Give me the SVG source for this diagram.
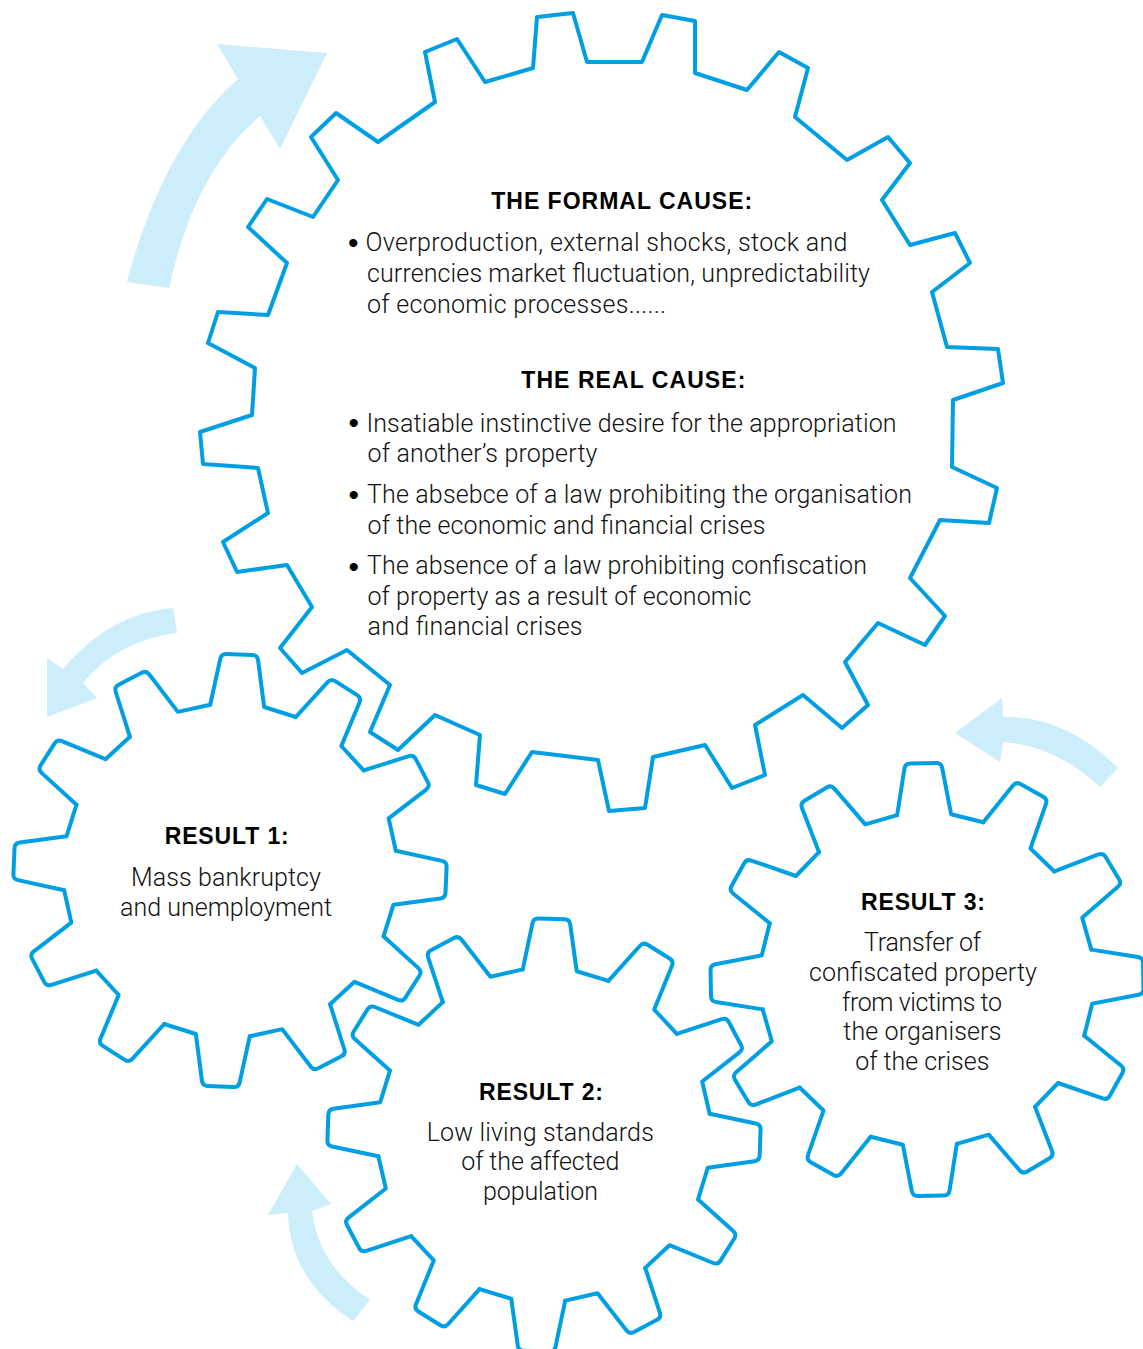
<svg xmlns="http://www.w3.org/2000/svg" xmlns:xlink="http://www.w3.org/1999/xlink" width="1143" height="1349" viewBox="0 0 1143 1349">
<defs>
<style>
.gl{fill:none;stroke:#009fe3;stroke-width:4;stroke-linejoin:round;stroke-linecap:round}
.arr{fill:#ccedfa;stroke:none}
.hd{font-family:"Liberation Sans",Arial,sans-serif;font-weight:bold;font-size:23px;fill:#000}
.bd{font-family:Roboto,"Liberation Sans",Arial,sans-serif;font-weight:300;font-size:25px;fill:#111}
.bl{font-family:"Liberation Sans",Arial,sans-serif;font-size:30px;fill:#000}
.c{text-anchor:middle}
</style>
<path id="tooth" class="gl" d="M-26.99,-164.81 L-18.87,-211.33 Q-18.01,-216.25 -13.01,-216.25 L13.01,-216.25 Q18.01,-216.25 18.87,-211.33 L26.99,-164.81 L59.03,-156.22"/>
<g id="smallGear">
<use xlink:href="#tooth"/>
<use xlink:href="#tooth" transform="rotate(30)"/>
<use xlink:href="#tooth" transform="rotate(60)"/>
<use xlink:href="#tooth" transform="rotate(90)"/>
<use xlink:href="#tooth" transform="rotate(120)"/>
<use xlink:href="#tooth" transform="rotate(150)"/>
<use xlink:href="#tooth" transform="rotate(180)"/>
<use xlink:href="#tooth" transform="rotate(210)"/>
<use xlink:href="#tooth" transform="rotate(240)"/>
<use xlink:href="#tooth" transform="rotate(270)"/>
<use xlink:href="#tooth" transform="rotate(300)"/>
<use xlink:href="#tooth" transform="rotate(330)"/>
</g>
</defs>
<rect width="1143" height="1349" fill="#fff"/>
<g id="connectors">
<path class="arr" d="M127,282 Q163,145 238,79 L217,44 L327,53 L280,149 L260,116 Q195,170 169,288 Z"/>
<path class="arr" d="M173,608 Q110,613 63,669 L47,658 L47,717 L97,698 L83,683 Q118,640 177,633 Z"/>
<path class="arr" d="M1118,768 Q1065,715 1003,717 L1002,698 L955,733 L1000,762 L1003,742 Q1055,745 1100,787 Z"/>
<path class="arr" d="M353,1321 Q290,1280 288,1213 L268,1215 L297,1164 L331,1204 L312,1211 Q318,1265 370,1300 Z"/>
</g>
<g id="cause-gear">
<path class="gl" d="M533,68 L537,17 L573,13 L587,62 L642,62 L662,15 L695,21 L695,73 L747,90 L779,52 L808,68 L795,117 L847,160 L888,137 L910,163 L882,200 L910,245 L955,233 L970,263 L932,292 L947,347 L998,349 L1003,383 L953,400 L952,467 L997,488 L989,523 L940,520 L910,578 L945,616 L925,645 L878,623 L845,662 L868,705 L842,728 L803,695 L755,725 L765,775 L732,788 L705,745 L653,757 L645,808 L609,811 L598,760 L532,752 L505,794 L476,785 L480,735 L435,715 L398,750 L370,732 L390,685 L347,650 L302,673 L280,648 L312,607 L287,565 L237,572 L223,542 L268,513 L258,468 L203,464 L200,432 L252,415 L255,368 L208,343 L218,312 L268,315 L287,263 L248,227 L267,199 L313,217 L338,180 L311,137 L336,113 L378,142 L435,102 L425,52 L457,39 L485,82 Z"/>
<text class="hd c" x="621.7" y="209" textLength="261">THE FORMAL CAUSE:</text>
<text class="bl" x="348.1" y="252.5">•</text>
<text class="bd" x="365.5" y="251" textLength="482">Overproduction, external shocks, stock and</text>
<text class="bd" x="367" y="282" textLength="503">currencies market fluctuation, unpredictability</text>
<text class="bd" x="367" y="312.5" textLength="299">of economic processes......</text>
<text class="hd c" x="633.3" y="388.3" textLength="224">THE REAL CAUSE:</text>
<text class="bl" x="348.5" y="433.2">•</text>
<text class="bd" x="366.5" y="432" textLength="530">Insatiable instinctive desire for the appropriation</text>
<text class="bd" x="367.5" y="462" textLength="230">of another’s property</text>
<text class="bl" x="348.5" y="505.2">•</text>
<text class="bd" x="367" y="503" textLength="545">The absebce of a law prohibiting the organisation</text>
<text class="bd" x="367.5" y="533.5" textLength="398">of the economic and financial crises</text>
<text class="bl" x="348.5" y="576.5">•</text>
<text class="bd" x="367" y="574" textLength="500">The absence of a law prohibiting confiscation</text>
<text class="bd" x="367.5" y="604.5" textLength="384">of property as a result of economic</text>
<text class="bd" x="367.5" y="635" textLength="215">and financial crises</text>
</g>
<g id="result-1">
<use xlink:href="#smallGear" transform="translate(230,870.5) rotate(2.5)"/>
<text class="hd c" x="226.7" y="844" textLength="124">RESULT 1:</text>
<text class="bd c" x="226" y="886" textLength="190">Mass bankruptcy</text>
<text class="bd c" x="226" y="916" textLength="212">and unemployment</text>
</g>
<g id="result-2">
<use xlink:href="#smallGear" transform="translate(544,1135) rotate(2)"/>
<text class="hd c" x="541" y="1100" textLength="124">RESULT 2:</text>
<text class="bd c" x="540.3" y="1140.7" textLength="227">Low living standards</text>
<text class="bd c" x="540.3" y="1169.5" textLength="158">of the affected</text>
<text class="bd c" x="540.5" y="1199.5" textLength="115">population</text>
</g>
<g id="result-3">
<use xlink:href="#smallGear" transform="translate(927,979.5) rotate(-1)"/>
<text class="hd c" x="923" y="910" textLength="124">RESULT 3:</text>
<text class="bd c" x="922.5" y="950.7" textLength="117">Transfer of</text>
<text class="bd c" x="923" y="980.7" textLength="228">confiscated property</text>
<text class="bd c" x="922" y="1010.7" textLength="160">from victims to</text>
<text class="bd c" x="922.3" y="1039.5" textLength="158">the organisers</text>
<text class="bd c" x="922.3" y="1070" textLength="134">of the crises</text>
</g>
</svg>
